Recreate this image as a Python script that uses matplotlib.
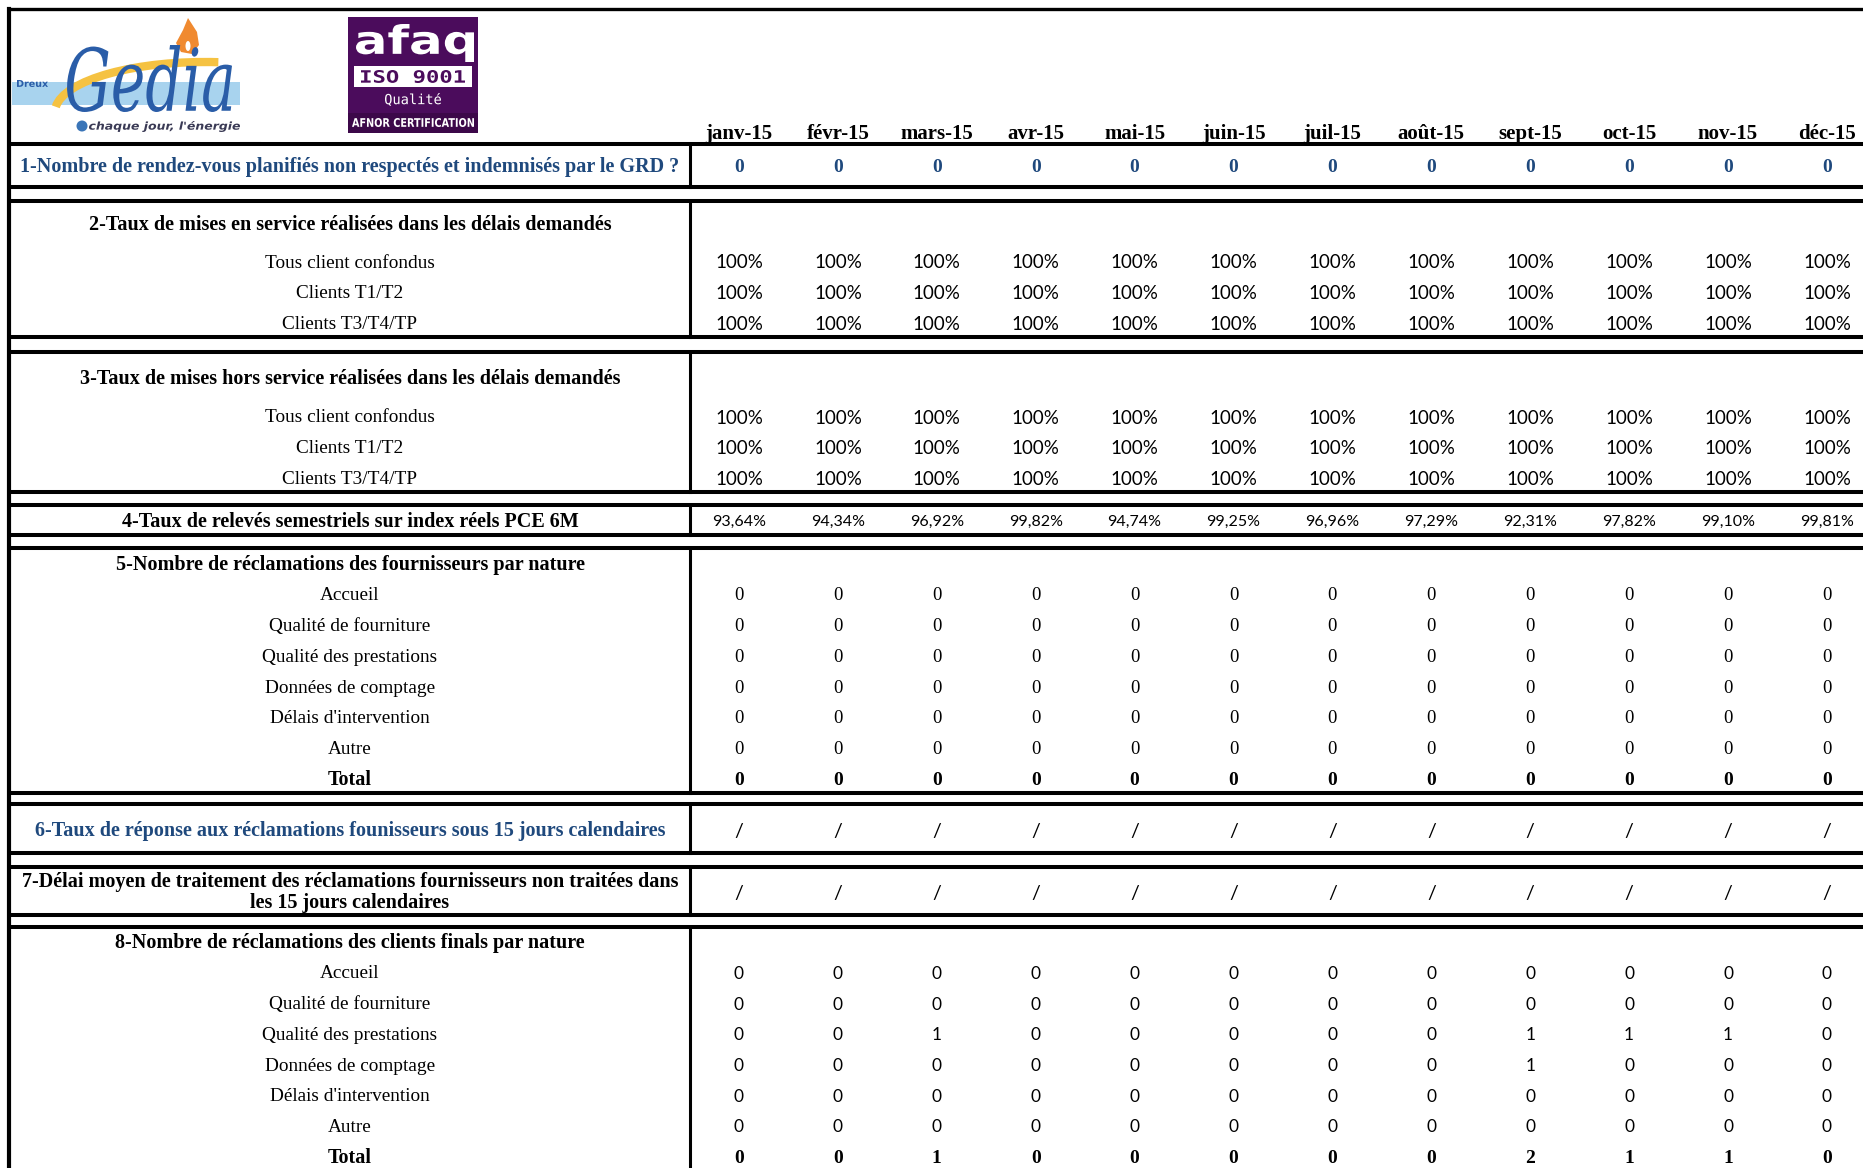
"""Tableau des indicateurs qualité GRD Gedia (2015), redessiné en matplotlib."""
import matplotlib
matplotlib.use("Agg")
import matplotlib.pyplot as plt
from matplotlib.patches import Rectangle, PathPatch, Polygon, Circle, Ellipse, Arc
from matplotlib.textpath import TextPath
from matplotlib.font_manager import FontProperties
from matplotlib.transforms import Affine2D

# ---- data -------------------------------------------------------------------
MONTHS = ["janv-15", "févr-15", "mars-15", "avr-15", "mai-15", "juin-15",
          "juil-15", "août-15", "sept-15", "oct-15", "nov-15", "déc-15"]

TITLE_1 = "1-Nombre de rendez-vous planifiés non respectés et indemnisés par le GRD ?"
RDV_NON_RESPECTES = [0, 0, 0, 0, 0, 0, 0, 0, 0, 0, 0, 0]

TITLE_2 = "2-Taux de mises en service réalisées dans les délais demandés"
TITLE_3 = "3-Taux de mises hors service réalisées dans les délais demandés"
CLIENT_ROWS = ["Tous client confondus", "Clients T1/T2", "Clients T3/T4/TP"]
MES_TAUX = [
    [100, 100, 100, 100, 100, 100, 100, 100, 100, 100, 100, 100],
    [100, 100, 100, 100, 100, 100, 100, 100, 100, 100, 100, 100],
    [100, 100, 100, 100, 100, 100, 100, 100, 100, 100, 100, 100],
]
MHS_TAUX = [
    [100, 100, 100, 100, 100, 100, 100, 100, 100, 100, 100, 100],
    [100, 100, 100, 100, 100, 100, 100, 100, 100, 100, 100, 100],
    [100, 100, 100, 100, 100, 100, 100, 100, 100, 100, 100, 100],
]

TITLE_4 = "4-Taux de relevés semestriels sur index réels PCE 6M"
RELEVES = [93.64, 94.34, 96.92, 99.82, 94.74, 99.25, 96.96, 97.29, 92.31, 97.82, 99.10, 99.81]

NATURES = ["Accueil", "Qualité de fourniture", "Qualité des prestations",
           "Données de comptage", "Délais d'intervention", "Autre"]

TITLE_5 = "5-Nombre de réclamations des fournisseurs par nature"
RECL_FOURN = [
    [0, 0, 0, 0, 0, 0, 0, 0, 0, 0, 0, 0],
    [0, 0, 0, 0, 0, 0, 0, 0, 0, 0, 0, 0],
    [0, 0, 0, 0, 0, 0, 0, 0, 0, 0, 0, 0],
    [0, 0, 0, 0, 0, 0, 0, 0, 0, 0, 0, 0],
    [0, 0, 0, 0, 0, 0, 0, 0, 0, 0, 0, 0],
    [0, 0, 0, 0, 0, 0, 0, 0, 0, 0, 0, 0],
]
RECL_FOURN_TOTAL = [0, 0, 0, 0, 0, 0, 0, 0, 0, 0, 0, 0]

TITLE_6 = "6-Taux de réponse aux réclamations founisseurs sous 15 jours calendaires"
REPONSE_15J = ["/", "/", "/", "/", "/", "/", "/", "/", "/", "/", "/", "/"]

TITLE_7 = ["7-Délai moyen de traitement des réclamations fournisseurs non traitées dans",
           "les 15 jours calendaires"]
DELAI_MOYEN = ["/", "/", "/", "/", "/", "/", "/", "/", "/", "/", "/", "/"]

TITLE_8 = "8-Nombre de réclamations des clients finals par nature"
RECL_CLIENTS = [
    [0, 0, 0, 0, 0, 0, 0, 0, 0, 0, 0, 0],
    [0, 0, 0, 0, 0, 0, 0, 0, 0, 0, 0, 0],
    [0, 0, 1, 0, 0, 0, 0, 0, 1, 1, 1, 0],
    [0, 0, 0, 0, 0, 0, 0, 0, 1, 0, 0, 0],
    [0, 0, 0, 0, 0, 0, 0, 0, 0, 0, 0, 0],
    [0, 0, 0, 0, 0, 0, 0, 0, 0, 0, 0, 0],
]
RECL_CLIENTS_TOTAL = [0, 0, 1, 0, 0, 0, 0, 0, 2, 1, 1, 0]

# ---- layout (pixel space of the 1863x1168 image) -----------------------------
W, H = 1863, 1168
LEFT, DIVIDER, LABEL_X = 9, 690, 350
COL0, COL_STEP = 739, 98.9
PITCH = 30.7
DY = 2  # text sits a little below the geometric row centre
BLUE = "#1F497D"
SERIF = "Liberation Serif"
SANS = "Lato"
T_SIZE, S_SIZE = 14.5, 13.9
LW_H, LW_V = 2.9, 2.2

fig = plt.figure(figsize=(W / 100, H / 100), dpi=100)
ax = fig.add_axes([0, 0, 1, 1])
ax.set_xlim(0, W)
ax.set_ylim(H, 0)
ax.axis("off")

xs = [COL0 + i * COL_STEP for i in range(len(MONTHS))]


def box(top, bottom):
    ax.plot([LEFT, W], [top, top], color="black", lw=LW_H, solid_capstyle="butt")
    ax.plot([LEFT, W], [bottom, bottom], color="black", lw=LW_H, solid_capstyle="butt")
    ax.plot([DIVIDER, DIVIDER], [top, bottom], color="black", lw=LW_V)


def label(y, s, bold=False, color="black", size=None):
    if size is None:
        size = T_SIZE if bold else S_SIZE
    ax.text(LABEL_X, y + DY, s, ha="center", va="center", family=SERIF,
            weight="bold" if bold else "normal", color=color, fontsize=size)


def values(y, vals, family=SERIF, bold=False, color="black", size=13.5):
    for x, v in zip(xs, vals):
        ax.text(x, y + DY, str(v), ha="center", va="center", family=family,
                weight="bold" if bold else "normal", color=color, fontsize=size)


def pct(v):
    return f"{v:.0f}%"


def pct2(v):
    return f"{v:.2f}%".replace(".", ",")


def fit_text(s, x0, y0, x1, y1, color, prop):
    """Draw text as a path stretched into the box (x0, y0)-(x1, y1)."""
    tp = TextPath((0, 0), s, size=100, prop=prop)
    bb = tp.get_extents()
    tr = (Affine2D().translate(-bb.x0, -bb.y0)
          .scale((x1 - x0) / bb.width, -(y1 - y0) / bb.height)
          .translate(x0, y1))
    ax.add_patch(PathPatch(tr.transform_path(tp), color=color, lw=0))


# outer frame
ax.plot([LEFT, LEFT], [9, H], color="black", lw=3.0)
ax.plot([LEFT, W], [9, 9], color="black", lw=2.4)

# ---- logos -------------------------------------------------------------------
LOGO_BLUE = "#2A5DA8"
ax.add_patch(Rectangle((12, 82), 228, 23, color="#A8D3EE", lw=0))
ax.add_patch(Arc((205, 112), 300, 100, theta1=182, theta2=285, color="#F5C242", lw=6))
ax.add_patch(Polygon([(188, 18), (197, 32), (199, 45), (192, 54), (181, 52), (176, 43), (183, 30)],
                     closed=True, color="#F08A30", lw=0))
ax.add_patch(Ellipse((188, 46), 5, 10, color="white", lw=0))
fit_text("Gedia", 67, 45, 232, 112, LOGO_BLUE,
         FontProperties(family="DejaVu Serif", style="italic"))
fit_text("Dreux", 17, 80, 48, 87, LOGO_BLUE, FontProperties(family="DejaVu Sans", weight="bold"))
ax.add_patch(Circle((82, 126), 5.5, color="#3A75B8", lw=0))
fit_text("chaque jour, l'énergie", 89, 121, 240, 132, "#3A3A55",
         FontProperties(family="DejaVu Sans", style="italic", weight="bold"))
ax.plot([240, 260], [142, 142], color="#999999", lw=0.8)

AFAQ = "#4B0C5C"
ax.add_patch(Rectangle((348, 17), 130, 116, color=AFAQ, lw=0))
fit_text("afaq", 356, 24, 474, 62, "white", FontProperties(family="DejaVu Sans", weight="bold"))
ax.add_patch(Rectangle((354, 66), 118, 21, color="white", lw=0))
fit_text("ISO 9001", 361, 70, 465, 83, AFAQ,
         FontProperties(family="DejaVu Sans Mono", weight="bold"))
fit_text("Qualité", 385, 93, 441, 106, "white", FontProperties(family="DejaVu Sans Mono"))
ax.add_patch(Rectangle((348, 113), 130, 20, color="#3C0849", lw=0))
fit_text("AFNOR CERTIFICATION", 352, 118, 474, 127, "white",
         FontProperties(family="DejaVu Sans", weight="bold"))

# ---- header ------------------------------------------------------------------
for x, m in zip(xs, MONTHS):
    ax.text(x, 132 + DY, m, ha="center", va="center", family=SERIF, weight="bold", fontsize=15)

# ---- section 1 -------------------------------------------------------------
box(144, 187)
label(165, TITLE_1, bold=True, color=BLUE)
values(165, RDV_NON_RESPECTES, bold=True, color=BLUE, size=14)

# ---- sections 2 & 3 --------------------------------------------------------
for (top, bottom, title_y, first_y), title, data in [
        ((201, 337, 223, 261), TITLE_2, MES_TAUX),
        ((352, 492, 377, 416), TITLE_3, MHS_TAUX)]:
    box(top, bottom)
    label(title_y, title, bold=True)
    for k, (name, row) in enumerate(zip(CLIENT_ROWS, data)):
        y = first_y + k * PITCH
        label(y, name)
        values(y, [pct(v) for v in row], family=SANS, size=13.5)

# ---- section 4 -------------------------------------------------------------
box(505, 535)
label(520, TITLE_4, bold=True)
values(520, [pct2(v) for v in RELEVES], family=SANS, size=11.5)

# ---- section 5 -------------------------------------------------------------
box(548, 793)
label(563, TITLE_5, bold=True)
for k, (name, row) in enumerate(zip(NATURES, RECL_FOURN)):
    y = 594 + k * PITCH
    label(y, name)
    values(y, row)
label(594 + 6 * PITCH, "Total", bold=True)
values(594 + 6 * PITCH, RECL_FOURN_TOTAL, bold=True, size=14)

# ---- sections 6 & 7 --------------------------------------------------------
box(804, 853)
label(829, TITLE_6, bold=True, color=BLUE)
values(829, REPONSE_15J, family=SANS, size=14)

box(867, 915)
label(880, TITLE_7[0], bold=True)
label(901, TITLE_7[1], bold=True)
values(891, DELAI_MOYEN, family=SANS, size=14)

# ---- section 8 -------------------------------------------------------------
box(927, H + 20)
label(941, TITLE_8, bold=True)
for k, (name, row) in enumerate(zip(NATURES, RECL_CLIENTS)):
    y = 972 + k * PITCH
    label(y, name)
    values(y, row, family=SANS, size=12.5)
label(972 + 6 * PITCH, "Total", bold=True)
values(972 + 6 * PITCH, RECL_CLIENTS_TOTAL, bold=True, size=14)

fig.savefig("out.png", dpi=100)
